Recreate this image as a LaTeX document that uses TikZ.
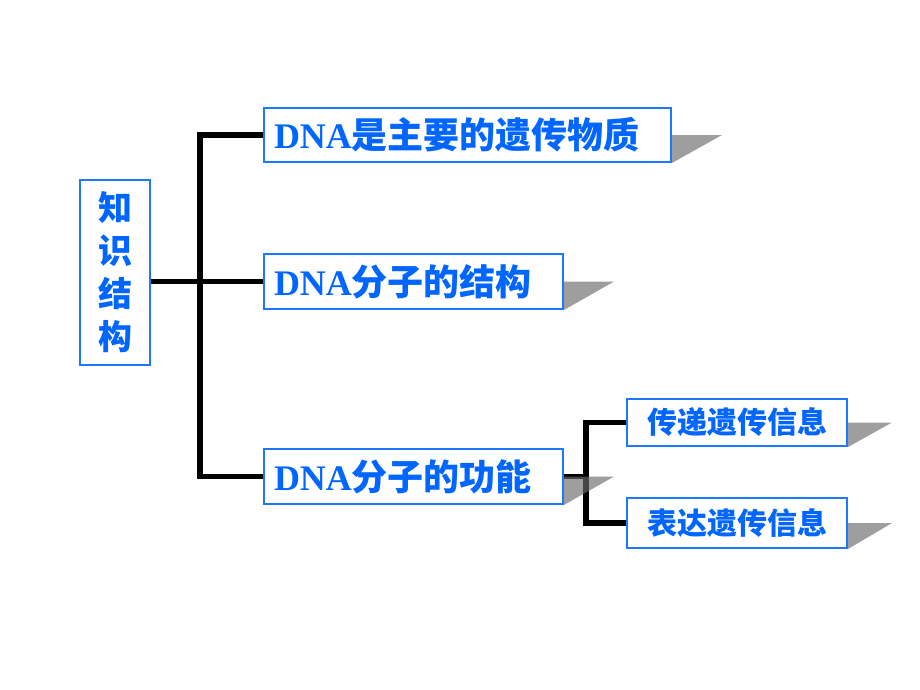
\documentclass[tikz,border=0pt]{standalone}
\usepackage{fontspec}
\setmainfont{Liberation Serif}
\newfontfamily\cjk{Noto Sans CJK SC}
\usetikzlibrary{backgrounds}
\definecolor{txtblue}{RGB}{0,102,255}
\definecolor{bdblue}{RGB}{30,120,255}
\tikzset{
  box/.style={draw=bdblue, line width=2pt, fill=white, text=txtblue,
    font=\bfseries\fontsize{36}{40}\selectfont, inner ysep=0pt, inner xsep=10pt,
    anchor=north west, align=left},
  subbox/.style={box, font=\bfseries\fontsize{30}{34}\selectfont, align=center, inner xsep=0pt},
  vbox/.style={box, inner xsep=0pt, align=center, font=\bfseries\fontsize{34}{43}\selectfont},
  conn/.style={line width=5.5pt, draw=black, line join=miter},
  shadowfill/.style={fill=black!58, fill opacity=0.65, draw=none}
}
\begin{document}
\begin{tikzpicture}[x=1pt,y=-1pt]
\useasboundingbox (0,0) rectangle (920,690);
\node[vbox, text width=70pt, minimum height=185pt] (k) at (79,179) {\cjk 知\\识\\结\\构};
\node[box, text width=387pt, minimum height=54pt] (b1) at (263,107) {DNA{\cjk 是主要的遗传物质}};
\node[box, text width=279pt, minimum height=55pt] (b2) at (263,253) {DNA{\cjk 分子的结构}};
\node[box, text width=279pt, minimum height=55pt] (b3) at (263,448) {DNA{\cjk 分子的功能}};
\node[subbox, text width=220pt, minimum height=47pt] (s1) at (626,398) {\cjk 传递遗传信息};
\node[subbox, text width=220pt, minimum height=50pt] (s2) at (626,497) {\cjk 表达遗传信息};
\begin{scope}[on background layer]
  \fill[white] (0,0) rectangle (920,690);
  \draw[conn] (b1.west) -- ++(-63,0) |- (b3.west);
  \draw[conn] (k.east |- b2.west) -- (b2.west);
  \draw[conn] (b3.east) -- ++(25,0);
  \draw[conn] (s1.west) -- ++(-40,0) |- (s2.west);
  \foreach \n/\d in {b1/50,b2/50,b3/50,s1/44,s2/44}{
    \fill[shadowfill] (\n.east) -- ++(\d,0) -- (\n.south east) -- cycle;
  }
\end{scope}
\end{tikzpicture}
\end{document}
